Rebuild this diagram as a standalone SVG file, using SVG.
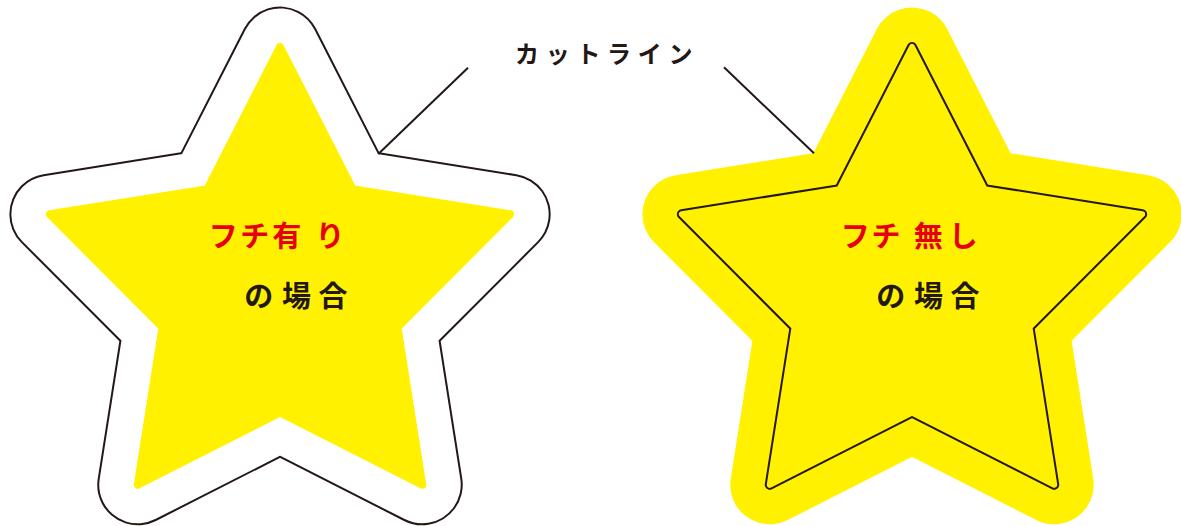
<svg xmlns="http://www.w3.org/2000/svg" xmlns:xlink="http://www.w3.org/1999/xlink" width="1181" height="526" viewBox="0 0 1181 526">
<style>
.lbl{font-family:"Noto Sans CJK JP","Noto Sans",sans-serif;font-weight:bold;text-anchor:middle}
.red{fill:#e60012;font-size:29px}
.blk{fill:#231815;font-size:29px}
.cut{fill:#231815;font-size:24px}
.lead{stroke:#231815;stroke-width:2;fill:none}
</style>
<defs>
<polygon id="star" points="280,47 352.59,189.09 510.16,214.22 397.46,327.16 422.24,484.78 280,412.5 137.76,484.78 162.54,327.16 49.84,214.22 207.41,189.09" stroke-linejoin="round"/>
</defs>
<g id="star-left">
<use href="#star" xlink:href="#star" fill="#231815" stroke="#231815" stroke-width="81"/>
<use href="#star" xlink:href="#star" fill="#ffffff" stroke="#ffffff" stroke-width="77"/>
<use href="#star" xlink:href="#star" fill="#fff100" stroke="#fff100" stroke-width="8"/>
<text class="lbl red" x="223.3 254.7 286.7 330" y="246.5">フチ有り</text>
<text class="lbl blk" x="258.7 296.5 333" y="306.5">の場合</text>
</g>
<g id="star-right" transform="translate(632,0)">
<use href="#star" xlink:href="#star" fill="#fff100" stroke="#fff100" stroke-width="79"/>
<use href="#star" xlink:href="#star" fill="#231815" stroke="#231815" stroke-width="10"/>
<use href="#star" xlink:href="#star" fill="#fff100" stroke="#fff100" stroke-width="6"/>
<text class="lbl red" x="223.3 254 296.3 331.3" y="246.5">フチ無し</text>
<text class="lbl blk" x="258.7 296.5 333" y="306.5">の場合</text>
</g>
<g id="label-cutline">
<text class="lbl cut" x="527 557.7 588.4 619 649.8 680.5" y="62.8">カットライン</text>
</g>
<g id="connectors">
<line class="lead" x1="468" y1="67.7" x2="378.3" y2="154"/>
<line class="lead" x1="724" y1="67.3" x2="814" y2="153.3"/>
</g>
</svg>
